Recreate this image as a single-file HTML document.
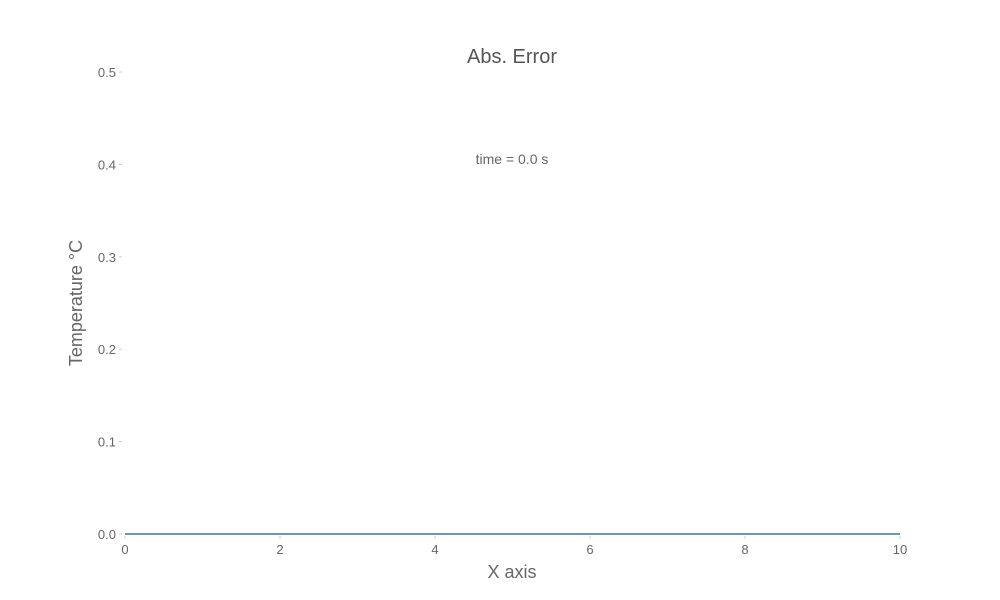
<!DOCTYPE html>
<html><head><meta charset="utf-8"><style>
html,body{margin:0;padding:0;background:#fff;}
svg{display:block;font-family:"Liberation Sans","DejaVu Sans",sans-serif;}
</style></head><body>
<svg id="chart" width="1000" height="600">
<text x="512" y="63" text-anchor="middle" font-size="20" fill="#555">Abs. Error</text>
<text x="512" y="164" text-anchor="middle" font-size="14" fill="#666">time = 0.0 s</text>
<text x="512" y="578" text-anchor="middle" font-size="18" fill="#666">X axis</text>
<text transform="translate(82,303) rotate(-90)" text-anchor="middle" font-size="18" fill="#666">Temperature °C</text>
<g id="xticks"></g>
<g id="yticks"></g>
<g id="series"></g>
</svg>
<script>
const xTicks = [0, 2, 4, 6, 8, 10];
const yTicks = [0.0, 0.1, 0.2, 0.3, 0.4, 0.5];
const yTickLabels = ["0.0", "0.1", "0.2", "0.3", "0.4", "0.5"];
const seriesX = [0, 1, 2, 3, 4, 5, 6, 7, 8, 9, 10];
const seriesY = [0, 0, 0, 0, 0, 0, 0, 0, 0, 0, 0];

const NS = "http://www.w3.org/2000/svg";
const X0 = 125, X1 = 900, Y0 = 534, Y1 = 72;
function sx(v){ return X0 + (v - 0) / (10 - 0) * (X1 - X0); }
function sy(v){ return Y0 - (v - 0) / (0.5 - 0) * (Y0 - Y1); }
function mk(tag, attrs, parent){
  const e = document.createElementNS(NS, tag);
  for (const k in attrs) e.setAttribute(k, attrs[k]);
  parent.appendChild(e);
  return e;
}
const gx = document.getElementById("xticks");
xTicks.forEach(v => {
  const t = mk("line", {x1: sx(v), x2: sx(v), y1: Y0 + 2, y2: Y0 + 5, stroke: "#ccc"}, gx);
  
  
  const l = mk("text", {x: sx(v), y: Y0 + 20, "text-anchor": "middle", "font-size": "13", fill: "#666"}, gx);
  l.textContent = v;
  
  
});
const gy = document.getElementById("yticks");
yTicks.forEach((v, i) => {
  const t = mk("line", {x1: X0 - 6, x2: X0 - 3, y1: sy(v), y2: sy(v), stroke: "#ccc"}, gy);
  
  
  const l = mk("text", {x: X0 - 9, y: sy(v) + 5, "text-anchor": "end", "font-size": "13", fill: "#666"}, gy);
  l.textContent = yTickLabels[i];
  
  
});
const gs = document.getElementById("series");
const pts = seriesX.map((x, i) => sx(x) + "," + sy(seriesY[i])).join(" ");
const pl = mk("polyline", {points: pts, fill: "none", stroke: "#3a75a5", "stroke-width": "1.5"}, gs);


</script>
</body></html>
